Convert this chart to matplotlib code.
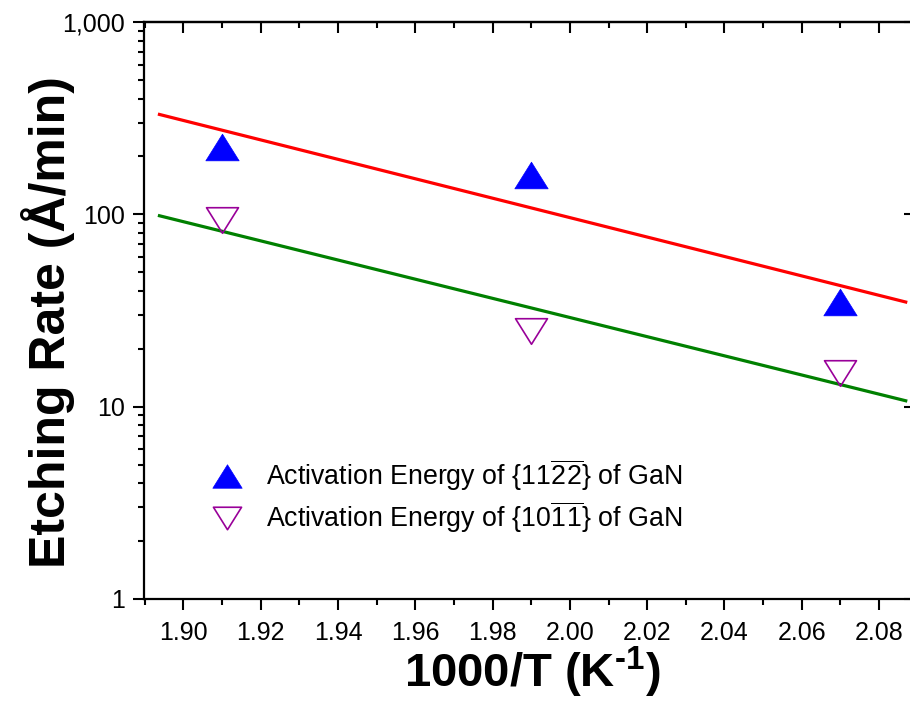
import numpy as np
import matplotlib
matplotlib.use("Agg")
import matplotlib.pyplot as plt
from matplotlib.ticker import FixedLocator, MultipleLocator, LogLocator, NullFormatter, FuncFormatter
from matplotlib.path import Path

plt.rcParams['font.family'] = ['Liberation Sans', 'DejaVu Sans']
plt.rcParams['mathtext.default'] = 'regular'

# inverse temperature (1000/T, K^-1)
inv_temp = [1.91, 1.99, 2.07]
# etching rates (Å/min)
rate_1122 = [225, 160, 35]
rate_1011 = [94, 24.6, 15]

label_1122 = r'Activation Energy of {11$\overline{2}\hspace{0.06}\overline{2}$} of GaN'
label_1011 = r'Activation Energy of {10$\overline{1}\hspace{0.06}\overline{1}$} of GaN'

x_ticks = [1.90, 1.92, 1.94, 1.96, 1.98, 2.00, 2.02, 2.04, 2.06, 2.08]
y_ticks = [1, 10, 100, 1000]

# range over which the Arrhenius fits are drawn
fit_x_start, fit_x_end = 1.8938, 2.0869

fig = plt.figure(figsize=(9.10, 7.01), dpi=100)
ax = fig.add_axes([144 / 910, 1 - 599 / 701, 771 / 910, 577 / 701])
ax.set_yscale('log')
ax.set_xlim(1.8898, 2.0893)
ax.set_ylim(1, 1000)

# linear fits of log10(rate) against 1000/T
xf = np.linspace(fit_x_start, fit_x_end, 50)
for rates, col in ((rate_1122, '#FF0000'), (rate_1011, '#008000')):
    k, b = np.polyfit(inv_temp, np.log10(rates), 1)
    ax.plot(xf, 10 ** (k * xf + b), color=col, lw=2.3, zorder=2)

up_tri = Path([(-1, -0.8), (1, -0.8), (0, 0.8), (-1, -0.8)],
              [Path.MOVETO, Path.LINETO, Path.LINETO, Path.CLOSEPOLY])
dn_tri = Path([(-1, 0.8), (1, 0.8), (0, -0.8), (-1, 0.8)],
              [Path.MOVETO, Path.LINETO, Path.LINETO, Path.CLOSEPOLY])

ax.plot(inv_temp, rate_1122, ls='none', marker=up_tri, ms=24,
        mfc='#0000FF', mec='#0000FF', mew=0.5, label=label_1122, zorder=3)
ax.plot(inv_temp, rate_1011, ls='none', marker=dn_tri, ms=23,
        mfc='none', mec='#990099', mew=1.2, label=label_1011, zorder=3)

# axes styling
for s in ax.spines.values():
    s.set_linewidth(1.6)
ax.xaxis.set_major_locator(FixedLocator(x_ticks))
ax.xaxis.set_minor_locator(MultipleLocator(0.01))
ax.xaxis.set_major_formatter(FuncFormatter(lambda v, p: f'{v:.2f}'))
ax.yaxis.set_major_locator(FixedLocator(y_ticks))
ax.yaxis.set_minor_locator(LogLocator(base=10, subs=np.arange(2, 10), numticks=20))
ax.yaxis.set_minor_formatter(NullFormatter())
ax.yaxis.set_major_formatter(FuncFormatter(lambda v, p: f'{v:,.0f}'))

ax.tick_params(axis='x', which='major', direction='out', length=8, width=1.5,
               labelsize=18, pad=8, top=False)
ax.tick_params(axis='x', which='minor', direction='out', length=4.5, width=1.5, top=False)
ax.tick_params(axis='y', which='major', direction='out', length=8, width=1.5,
               labelsize=18, pad=6, right=False)
ax.tick_params(axis='y', which='minor', direction='out', length=4, width=1.5, right=False)

# mirrored axes with inward ticks on top and right
top = ax.secondary_xaxis('top')
top.xaxis.set_major_locator(FixedLocator(x_ticks))
top.xaxis.set_minor_locator(MultipleLocator(0.01))
top.tick_params(which='major', direction='in', length=8, width=1.5, labeltop=False)
top.tick_params(which='minor', direction='in', length=4.5, width=1.5)
top.spines['top'].set_linewidth(1.6)
right = ax.secondary_yaxis('right')
right.yaxis.set_major_locator(FixedLocator(y_ticks))
right.yaxis.set_minor_locator(FixedLocator([]))
right.tick_params(which='major', direction='in', length=8, width=1.5, labelright=False)
right.spines['right'].set_linewidth(1.6)

ax.set_xlabel('1000/T (K$^{\u2010 1}$)', fontsize=34, fontweight='bold')
ax.xaxis.set_label_coords(0.503, -0.128)
ax.xaxis.label.set_va('center')
ax.set_ylabel('Etching Rate (Å/min)', fontsize=36, fontweight='bold')
ax.yaxis.set_label_coords(-0.124, 0.48)
ax.yaxis.label.set_va('center')

ax.legend(loc='center left', bbox_to_anchor=(0.07, 0.178), frameon=False,
          fontsize=19.3, handletextpad=0.75, labelspacing=0.25, markerscale=0.88,
          handlelength=1.4, borderaxespad=0)

fig.savefig('out.png', dpi=100)
